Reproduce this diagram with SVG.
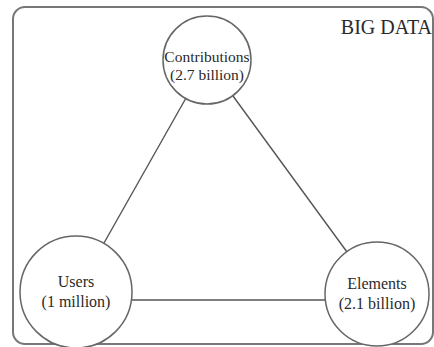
<svg xmlns="http://www.w3.org/2000/svg" width="434" height="347" viewBox="0 0 434 347">
<style>
text{font-family:"Liberation Serif","DejaVu Serif",serif;fill:#2a2a2a}
.node{fill:#fff;stroke:#666;stroke-width:1.5}
.lbl{font-size:16px;text-anchor:middle}
.edge{stroke:#555;stroke-width:1.4;fill:none}
</style>
<rect x="13" y="7" width="420" height="337" rx="12" ry="12" fill="#fff" stroke="#777" stroke-width="2"/>
<text x="432" y="34" font-size="20" text-anchor="end">BIG DATA</text>
<g id="connectors">
<line class="edge" x1="186" y1="98" x2="104" y2="243"/>
<line class="edge" x1="233" y1="96" x2="347" y2="252"/>
<line class="edge" x1="131" y1="300" x2="326" y2="300"/>
</g>
<g id="contributions">
<circle class="node" cx="207" cy="60" r="44"/>
<text class="lbl" x="207" y="62" style="font-size:15.5px">Contributions</text>
<text class="lbl" x="207" y="80" style="font-size:15.5px">(2.7 billion)</text>
</g>
<g id="users">
<circle class="node" cx="76" cy="292" r="56"/>
<text class="lbl" x="76" y="287">Users</text>
<text class="lbl" x="76" y="307">(1 million)</text>
</g>
<g id="elements">
<circle class="node" cx="377" cy="294" r="52"/>
<text class="lbl" x="377" y="289">Elements</text>
<text class="lbl" x="377" y="309">(2.1 billion)</text>
</g>
</svg>
